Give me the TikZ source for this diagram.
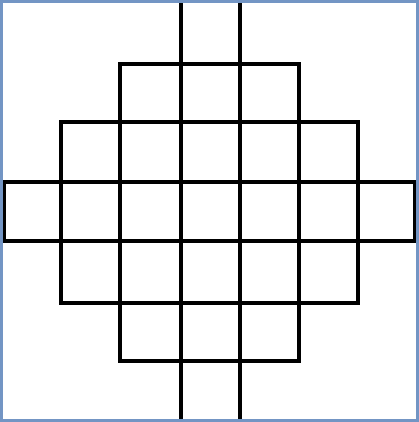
\documentclass[tikz,border=0pt]{standalone}
\definecolor{frameblue}{RGB}{115,149,196}
\tikzset{gridline/.style={draw=black,line width=3.8pt},
frameline/.style={draw=frameblue,line width=3pt}}
\begin{document}
\begin{tikzpicture}[x=1pt,y=-1pt]
\useasboundingbox (0,0) rectangle (419,422);
% long vertical lines
\draw[gridline] (181,0) -- (181,422);
\draw[gridline] (240,0) -- (240,422);
% middle row
\draw[gridline] (3.7,182) rectangle (414.5,241);
\foreach \x in {61,120,299,358} \draw[gridline] (\x,182) -- (\x,241);
% second and fourth rows
\draw[gridline] (61,122) rectangle (358,303);
\foreach \x in {120,299} \draw[gridline] (\x,122) -- (\x,303);
% top and bottom rows
\draw[gridline] (120,64) rectangle (299,360.7);
% frame
\draw[frameline] (1.5,1.5) rectangle (417.5,420);
\end{tikzpicture}
\end{document}
